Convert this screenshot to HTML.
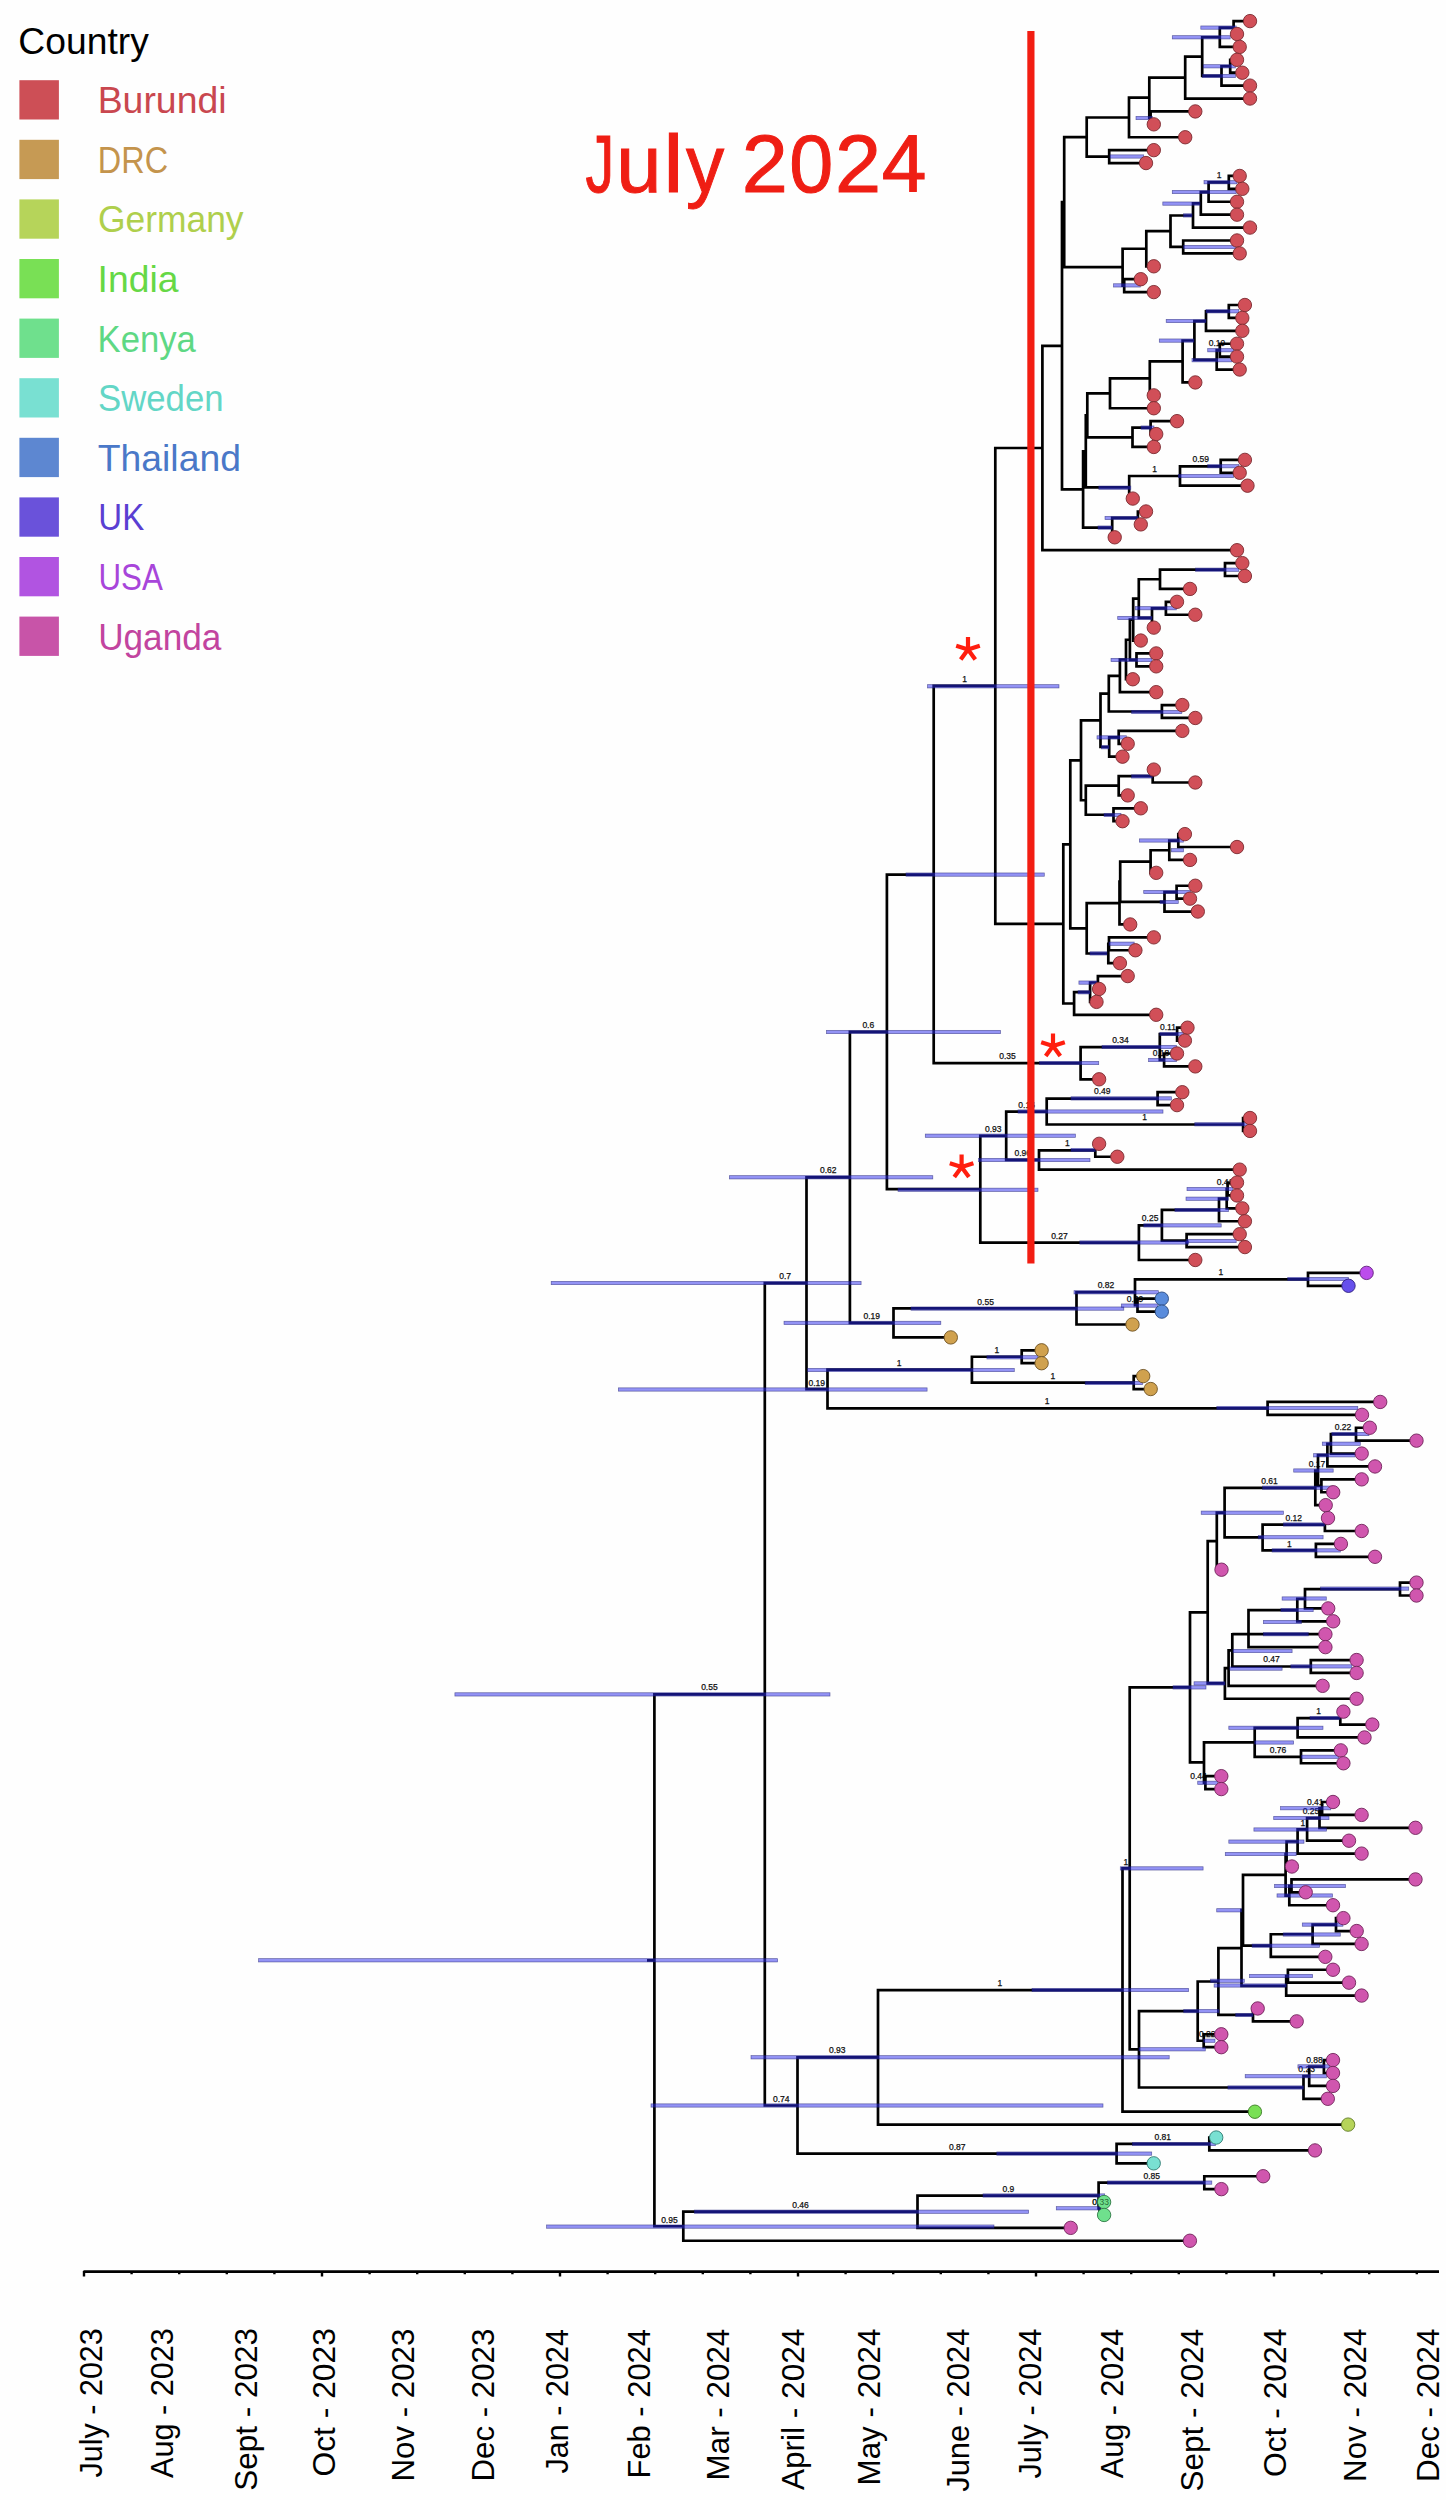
<!DOCTYPE html>
<html><head><meta charset="utf-8"><title>Phylogeny</title>
<style>html,body{margin:0;padding:0;background:#fefefe;}svg{display:block;}</style>
</head><body>
<svg width="1446" height="2500" viewBox="0 0 1446 2500"><rect width="100%" height="100%" fill="#fefefe"/><text x="18.36" y="54.00" font-family="Liberation Sans" font-size="36.5" fill="#000" textLength="130.44" lengthAdjust="spacingAndGlyphs">Country</text><rect x="19.4" y="80.2" width="39.5" height="39.3" fill="#CD4F56"/><text x="97.68" y="113.10" font-family="Liberation Sans" font-size="36" fill="#C9474F" textLength="128.90" lengthAdjust="spacingAndGlyphs">Burundi</text><rect x="19.4" y="139.8" width="39.5" height="39.3" fill="#C69A54"/><text x="97.80" y="172.70" font-family="Liberation Sans" font-size="36" fill="#C4944C" textLength="70.26" lengthAdjust="spacingAndGlyphs">DRC</text><rect x="19.4" y="199.4" width="39.5" height="39.3" fill="#B6D45A"/><text x="97.93" y="232.30" font-family="Liberation Sans" font-size="36" fill="#AFCF4C" textLength="145.61" lengthAdjust="spacingAndGlyphs">Germany</text><rect x="19.4" y="259.0" width="39.5" height="39.3" fill="#79E055"/><text x="97.58" y="291.90" font-family="Liberation Sans" font-size="36" fill="#66D845" textLength="80.89" lengthAdjust="spacingAndGlyphs">India</text><rect x="19.4" y="318.6" width="39.5" height="39.3" fill="#6FE08D"/><text x="97.61" y="351.50" font-family="Liberation Sans" font-size="36" fill="#5ED884" textLength="98.27" lengthAdjust="spacingAndGlyphs">Kenya</text><rect x="19.4" y="378.2" width="39.5" height="39.3" fill="#79E0D2"/><text x="98.06" y="411.10" font-family="Liberation Sans" font-size="36" fill="#63D6C6" textLength="125.46" lengthAdjust="spacingAndGlyphs">Sweden</text><rect x="19.4" y="437.8" width="39.5" height="39.3" fill="#5D87D1"/><text x="97.77" y="470.70" font-family="Liberation Sans" font-size="36" fill="#4A78C8" textLength="143.11" lengthAdjust="spacingAndGlyphs">Thailand</text><rect x="19.4" y="497.4" width="39.5" height="39.3" fill="#6A52DA"/><text x="98.33" y="530.30" font-family="Liberation Sans" font-size="36" fill="#5A3FD2" textLength="45.84" lengthAdjust="spacingAndGlyphs">UK</text><rect x="19.4" y="557.0" width="39.5" height="39.3" fill="#B154E1"/><text x="98.47" y="589.90" font-family="Liberation Sans" font-size="36" fill="#A845DA" textLength="64.34" lengthAdjust="spacingAndGlyphs">USA</text><rect x="19.4" y="616.6" width="39.5" height="39.3" fill="#C854A8"/><text x="98.17" y="649.50" font-family="Liberation Sans" font-size="36" fill="#C2449F" textLength="123.14" lengthAdjust="spacingAndGlyphs">Uganda</text><text x="585.59" y="192.00" font-family="Liberation Sans" font-size="82" fill="#EF1E14" textLength="28.68" lengthAdjust="spacingAndGlyphs" stroke="#EF1E14" stroke-width="1.0">J</text><text x="616.35" y="192.00" font-family="Liberation Sans" font-size="82" fill="#EF1E14" textLength="45.21" lengthAdjust="spacingAndGlyphs" stroke="#EF1E14" stroke-width="1.0">u</text><text x="663.39" y="192.00" font-family="Liberation Sans" font-size="82" fill="#EF1E14" textLength="20.24" lengthAdjust="spacingAndGlyphs" stroke="#EF1E14" stroke-width="1.0">l</text><text x="686.01" y="192.00" font-family="Liberation Sans" font-size="82" fill="#EF1E14" textLength="38.17" lengthAdjust="spacingAndGlyphs" stroke="#EF1E14" stroke-width="1.0">y</text><text x="741.66" y="192.00" font-family="Liberation Sans" font-size="82" fill="#EF1E14" textLength="46.09" lengthAdjust="spacingAndGlyphs" stroke="#EF1E14" stroke-width="1.0">2</text><text x="789.31" y="192.00" font-family="Liberation Sans" font-size="82" fill="#EF1E14" textLength="43.98" lengthAdjust="spacingAndGlyphs" stroke="#EF1E14" stroke-width="1.0">0</text><text x="834.96" y="192.00" font-family="Liberation Sans" font-size="82" fill="#EF1E14" textLength="46.09" lengthAdjust="spacingAndGlyphs" stroke="#EF1E14" stroke-width="1.0">2</text><text x="881.84" y="192.00" font-family="Liberation Sans" font-size="82" fill="#EF1E14" textLength="44.72" lengthAdjust="spacingAndGlyphs" stroke="#EF1E14" stroke-width="1.0">4</text><g font-family="Liberation Sans" font-size="8.5" fill="#111" stroke="#111" stroke-width="0.25" text-anchor="middle"><text x="1219.0" y="178.2">1</text><text x="1217.0" y="346.2">0.19</text><text x="1154.6" y="471.9">1</text><text x="1200.8" y="462.2">0.59</text><text x="1120.4" y="1043.0">0.34</text><text x="1168.0" y="1030.0">0.11</text><text x="1161.0" y="1056.0">0.18</text><text x="1102.2" y="1094.4">0.49</text><text x="1144.6" y="1120.3">1</text><text x="1067.3" y="1146.0">1</text><text x="1007.5" y="1059.0">0.35</text><text x="1026.6" y="1107.5">0.16</text><text x="993.2" y="1131.7">0.93</text><text x="1022.8" y="1155.9">0.96</text><text x="1150.1" y="1221.3">0.25</text><text x="1059.4" y="1238.5">0.27</text><text x="1225.0" y="1184.8">0.41</text><text x="964.6" y="682.3">1</text><text x="868.3" y="1028.1">0.6</text><text x="828.2" y="1173.3">0.62</text><text x="785.2" y="1279.2">0.7</text><text x="871.8" y="1318.9">0.19</text><text x="985.6" y="1304.6">0.55</text><text x="1105.9" y="1288.3">0.82</text><text x="1135.0" y="1301.5">0.39</text><text x="1220.9" y="1275.0">1</text><text x="816.8" y="1385.5">0.19</text><text x="899.2" y="1366.0">1</text><text x="996.8" y="1353.3">1</text><text x="1052.8" y="1379.0">1</text><text x="1047.1" y="1404.0">1</text><text x="1343.0" y="1430.0">0.22</text><text x="1317.0" y="1466.5">0.17</text><text x="1269.5" y="1483.5">0.61</text><text x="1293.7" y="1520.5">0.12</text><text x="1289.4" y="1546.5">1</text><text x="1271.5" y="1662.4">0.47</text><text x="1318.7" y="1714.0">1</text><text x="1278.0" y="1752.5">0.76</text><text x="1198.5" y="1778.7">0.44</text><text x="1315.2" y="1804.5">0.41</text><text x="1310.9" y="1814.1">0.25</text><text x="1302.8" y="1825.5">1</text><text x="1125.8" y="1864.5">1</text><text x="999.9" y="1986.0">1</text><text x="1207.2" y="2036.7">0.22</text><text x="1314.4" y="2062.5">0.88</text><text x="1306.6" y="2072.2">0.23</text><text x="837.2" y="2053.3">0.93</text><text x="781.2" y="2101.5">0.74</text><text x="957.3" y="2149.5">0.87</text><text x="1162.8" y="2140.0">0.81</text><text x="1151.7" y="2178.5">0.85</text><text x="1008.4" y="2191.5">0.9</text><text x="1100.6" y="2204.5">0.33</text><text x="800.5" y="2207.7">0.46</text><text x="669.4" y="2222.6">0.95</text><text x="709.4" y="1690.4">0.55</text></g><path d="M654.4 1693.00V2227.59M654.4 1694.35H764.8M764.8 1281.86V2106.84M764.8 1283.21H806.5M806.5 1176.04V1390.38M806.5 1177.39H849.9M849.9 1030.53V1324.24M849.9 1031.88H886.9M886.9 873.21V1190.55M886.9 874.56H933.7M933.7 684.59V1064.53M933.7 685.94H995.3M995.3 446.65V925.24M995.3 448.00H1042.4M1042.4 344.44V551.56M1042.4 345.79H1062.0M1062.0 200.77V490.81M1062.0 202.12H1064.2M1064.2 135.69V268.55M1064.2 137.04H1086.7M1086.7 116.13V157.95M1086.7 117.48H1129.0M1129.0 96.37V138.59M1129.0 97.72H1149.3M1149.3 76.21V119.24M1149.3 77.56H1185.2M1185.2 55.24V99.88M1185.2 56.59H1202.2M1202.2 35.88V77.30M1202.2 37.23H1219.8M1219.8 26.20V48.26M1219.8 27.55H1233.6M1233.6 19.75V35.36M1233.6 21.10H1250.0M1233.6 34.01H1237.0M1219.8 46.91H1239.7M1202.2 75.95H1221.5M1221.5 64.92V86.97M1221.5 66.27H1230.2M1230.2 58.46V74.07M1230.2 59.81H1237.0M1230.2 72.72H1242.3M1221.5 85.62H1250.0M1185.2 98.53H1250.0M1149.3 117.89H1150.6M1150.6 110.09V125.69M1150.6 111.44H1195.3M1150.6 124.34H1153.8M1129.0 137.25H1185.2M1086.7 156.60H1109.2M1109.2 148.80V164.40M1109.2 150.15H1153.8M1109.2 163.05H1146.0M1064.2 267.20H1122.6M1122.6 247.40V287.00M1122.6 248.75H1146.3M1146.3 229.86V267.65M1146.3 231.21H1170.5M1170.5 214.13V248.29M1170.5 215.48H1193.0M1193.0 202.03V228.93M1193.0 203.38H1200.8M1200.8 190.74V216.02M1200.8 192.09H1208.6M1208.6 181.06V203.12M1208.6 182.41H1228.8M1228.8 174.61V190.21M1228.8 175.96H1239.7M1228.8 188.86H1242.3M1208.6 201.77H1237.0M1200.8 214.67H1237.0M1193.0 227.58H1250.0M1170.5 246.94H1183.2M1183.2 239.13V254.74M1183.2 240.48H1237.0M1183.2 253.39H1239.7M1146.3 266.30H1153.8M1122.6 285.65H1124.2M1124.2 277.85V293.46M1124.2 279.20H1140.8M1124.2 292.11H1153.8M1062.0 489.46H1083.1M1083.1 449.95V528.97M1083.1 451.30H1085.8M1085.8 413.96V488.64M1085.8 415.31H1087.3M1087.3 391.98V438.64M1087.3 393.33H1110.0M1110.0 377.06V409.60M1110.0 378.41H1149.8M1149.8 360.12V396.70M1149.8 361.47H1182.6M1182.6 339.15V383.79M1182.6 340.50H1194.4M1194.4 319.79V361.21M1194.4 321.14H1206.0M1206.0 310.11V332.17M1206.0 311.46H1228.8M1228.8 303.66V319.27M1228.8 305.01H1244.9M1228.8 317.92H1242.3M1206.0 330.82H1242.3M1194.4 359.86H1216.7M1216.7 348.83V370.89M1216.7 350.18H1219.8M1219.8 342.38V357.98M1219.8 343.73H1237.0M1219.8 356.63H1237.0M1216.7 369.54H1239.7M1182.6 382.44H1195.3M1149.8 395.35H1153.8M1110.0 408.25H1153.8M1087.3 437.29H1132.5M1132.5 426.26V448.31M1132.5 427.61H1150.6M1150.6 419.81V435.41M1150.6 421.16H1177.0M1150.6 434.06H1156.2M1132.5 446.96H1153.8M1085.8 487.29H1129.2M1129.2 474.65V499.94M1129.2 476.00H1180.0M1180.0 464.97V487.03M1180.0 466.32H1220.7M1220.7 458.52V474.12M1220.7 459.87H1244.9M1220.7 472.77H1239.7M1180.0 485.68H1247.5M1129.2 498.58H1132.8M1083.1 527.62H1112.2M1112.2 516.59V538.65M1112.2 517.94H1137.9M1137.9 510.14V525.75M1137.9 511.49H1146.0M1137.9 524.39H1140.8M1112.2 537.30H1114.7M1042.4 550.21H1237.0M995.3 923.89H1063.3M1063.3 842.94V1004.84M1063.3 844.29H1070.3M1070.3 758.94V929.63M1070.3 760.29H1081.0M1081.0 718.99V801.59M1081.0 720.34H1100.5M1100.5 692.32V748.36M1100.5 693.67H1108.8M1108.8 674.48V712.87M1108.8 675.83H1119.9M1119.9 658.14V693.51M1119.9 659.49H1126.0M1126.0 638.38V680.61M1126.0 639.73H1129.9M1129.9 618.22V661.25M1129.9 619.57H1133.2M1133.2 597.25V641.89M1133.2 598.60H1138.8M1138.8 577.89V619.31M1138.8 579.24H1160.0M1160.0 568.21V590.27M1160.0 569.56H1225.0M1225.0 561.76V577.37M1225.0 563.11H1242.3M1225.0 576.01H1244.9M1160.0 588.92H1190.0M1138.8 617.96H1152.0M1152.0 606.93V628.99M1152.0 608.28H1165.9M1165.9 600.48V616.08M1165.9 601.83H1177.0M1165.9 614.73H1195.3M1152.0 627.63H1153.8M1133.2 640.54H1140.8M1129.9 659.90H1136.5M1136.5 652.09V667.70M1136.5 653.44H1156.2M1136.5 666.35H1156.2M1126.0 679.25H1132.8M1119.9 692.16H1156.2M1108.8 711.52H1161.9M1161.9 703.71V719.32M1161.9 705.06H1182.3M1161.9 717.97H1195.3M1100.5 747.01H1109.2M1109.2 735.98V758.03M1109.2 737.33H1118.7M1118.7 729.52V745.13M1118.7 730.88H1182.3M1118.7 743.78H1127.7M1109.2 756.68H1122.5M1081.0 800.24H1085.8M1085.8 784.37V816.11M1085.8 785.72H1118.7M1118.7 774.69V796.75M1118.7 776.04H1152.7M1152.7 768.24V783.85M1152.7 769.59H1153.8M1152.7 782.50H1195.3M1118.7 795.40H1127.7M1085.8 814.76H1113.5M1113.5 806.95V822.56M1113.5 808.30H1140.8M1113.5 821.21H1122.5M1070.3 928.28H1086.7M1086.7 901.73V954.84M1086.7 903.08H1119.5M1119.5 880.35V925.80M1119.5 881.70H1120.2M1120.2 860.19V903.22M1120.2 861.54H1150.6M1150.6 848.90V874.18M1150.6 850.25H1169.3M1169.3 839.22V861.27M1169.3 840.57H1178.3M1178.3 832.76V848.37M1178.3 834.12H1184.9M1178.3 847.02H1237.0M1169.3 859.92H1190.0M1150.6 872.83H1156.2M1120.2 901.87H1164.5M1164.5 890.84V912.89M1164.5 892.19H1176.6M1176.6 884.38V899.99M1176.6 885.74H1195.3M1176.6 898.64H1190.0M1164.5 911.54H1197.8M1119.5 924.45H1130.2M1086.7 953.49H1108.3M1108.3 942.46V964.51M1108.3 943.81H1109.0M1109.0 936.00V951.61M1109.0 937.36H1153.8M1109.0 950.26H1135.4M1108.3 963.16H1119.9M1063.3 1003.49H1074.1M1074.1 990.85V1016.13M1074.1 992.20H1090.1M1090.1 981.17V1003.23M1090.1 982.52H1097.9M1097.9 974.72V990.33M1097.9 976.07H1127.7M1097.9 988.98H1099.1M1090.1 1001.88H1096.5M1074.1 1014.78H1156.2M933.7 1063.18H1080.6M1080.6 1045.70V1080.66M1080.6 1047.05H1159.8M1159.8 1032.79V1061.30M1159.8 1034.14H1177.1M1177.1 1026.34V1041.94M1177.1 1027.69H1187.5M1177.1 1040.60H1184.9M1159.8 1059.95H1164.1M1164.1 1052.15V1067.75M1164.1 1053.50H1177.0M1164.1 1066.40H1195.3M1080.6 1079.31H1099.1M886.9 1189.20H980.3M980.3 1134.42V1243.99M980.3 1135.77H1006.2M1006.2 1110.22V1161.32M1006.2 1111.57H1046.7M1046.7 1097.32V1125.83M1046.7 1098.67H1157.6M1157.6 1090.87V1106.47M1157.6 1092.21H1182.3M1157.6 1105.12H1177.0M1046.7 1124.48H1243.1M1243.1 1116.67V1132.28M1243.1 1118.02H1250.0M1243.1 1130.93H1250.0M1006.2 1159.97H1039.0M1039.0 1148.94V1170.99M1039.0 1150.29H1095.3M1095.3 1142.48V1158.09M1095.3 1143.83H1099.1M1095.3 1156.74H1117.3M1039.0 1169.64H1239.7M980.3 1242.64H1138.9M1138.9 1223.95V1261.33M1138.9 1225.30H1161.9M1161.9 1208.62V1241.97M1161.9 1209.97H1219.0M1219.0 1197.33V1222.61M1219.0 1198.68H1226.7M1226.7 1187.65V1209.71M1226.7 1189.00H1227.6M1227.6 1181.20V1196.80M1227.6 1182.55H1237.0M1227.6 1195.45H1237.0M1226.7 1208.36H1242.3M1219.0 1221.26H1244.9M1161.9 1240.62H1186.6M1186.6 1232.82V1248.42M1186.6 1234.17H1239.7M1186.6 1247.07H1244.9M1138.9 1259.98H1195.3M849.9 1322.89H893.5M893.5 1307.02V1338.76M893.5 1308.37H1076.5M1076.5 1290.89V1325.85M1076.5 1292.24H1135.0M1135.0 1277.99V1306.50M1135.0 1279.34H1308.0M1308.0 1271.53V1287.14M1308.0 1272.88H1366.6M1308.0 1285.79H1348.5M1135.0 1305.15H1137.5M1137.5 1297.35V1312.95M1137.5 1298.69H1161.8M1137.5 1311.60H1161.8M1076.5 1324.50H1132.5M893.5 1337.41H950.8M806.5 1389.03H827.5M827.5 1368.32V1409.74M827.5 1369.67H971.9M971.9 1355.42V1383.93M971.9 1356.77H1021.7M1021.7 1348.96V1364.57M1021.7 1350.31H1041.6M1021.7 1363.22H1041.6M971.9 1382.58H1133.7M1133.7 1374.77V1390.38M1133.7 1376.12H1143.2M1133.7 1389.03H1150.7M827.5 1408.39H1267.6M1267.6 1400.59V1416.19M1267.6 1401.93H1380.2M1267.6 1414.84H1362.0M764.8 2105.49H797.5M797.5 2055.97V2155.00M797.5 2057.32H878.0M878.0 1988.68V2125.96M878.0 1990.03H1122.5M1122.5 1867.00V2113.06M1122.5 1868.35H1129.7M1129.7 1686.03V2050.66M1129.7 1687.38H1190.0M1190.0 1610.95V1763.82M1190.0 1612.30H1207.7M1207.7 1539.82V1684.78M1207.7 1541.17H1216.8M1216.8 1511.29V1571.05M1216.8 1512.64H1224.6M1224.6 1486.48V1538.79M1224.6 1487.83H1315.3M1315.3 1469.14V1506.52M1315.3 1470.49H1318.0M1318.0 1453.82V1487.17M1318.0 1455.17H1327.4M1327.4 1442.53V1467.81M1327.4 1443.88H1330.9M1330.9 1432.85V1454.90M1330.9 1434.20H1356.0M1356.0 1426.39V1442.00M1356.0 1427.74H1369.8M1356.0 1440.65H1416.5M1330.9 1453.55H1361.7M1327.4 1466.46H1375.0M1318.0 1485.82H1321.4M1321.4 1478.01V1493.62M1321.4 1479.36H1361.7M1321.4 1492.27H1333.2M1315.3 1505.17H1325.7M1224.6 1537.44H1262.6M1262.6 1523.18V1551.69M1262.6 1524.53H1324.9M1324.9 1516.73V1532.33M1324.9 1518.08H1328.0M1324.9 1530.98H1361.7M1262.6 1550.34H1315.9M1315.9 1542.54V1558.14M1315.9 1543.89H1340.9M1315.9 1556.79H1375.0M1216.8 1569.70H1221.5M1207.7 1683.43H1224.9M1224.9 1666.75V1700.10M1224.9 1668.10H1228.6M1228.6 1649.01V1687.19M1228.6 1650.36H1232.3M1232.3 1632.88V1667.84M1232.3 1634.22H1248.5M1248.5 1608.68V1648.48M1248.5 1610.03H1297.3M1297.3 1597.39V1622.67M1297.3 1598.74H1305.0M1305.0 1587.71V1609.76M1305.0 1589.06H1400.0M1400.0 1581.25V1596.86M1400.0 1582.60H1416.5M1400.0 1595.51H1416.5M1305.0 1608.41H1328.2M1297.3 1621.32H1333.2M1248.5 1634.22H1325.4M1248.5 1647.13H1325.4M1232.3 1666.49H1310.8M1310.8 1658.68V1674.29M1310.8 1660.03H1356.6M1310.8 1672.94H1356.6M1228.6 1685.84H1322.6M1224.9 1698.75H1356.6M1190.0 1762.47H1204.0M1204.0 1740.95V1783.98M1204.0 1742.30H1254.7M1254.7 1726.44V1758.17M1254.7 1727.79H1297.6M1297.6 1716.76V1738.81M1297.6 1718.11H1340.3M1340.3 1710.30V1725.91M1340.3 1711.65H1343.4M1340.3 1724.56H1372.3M1297.6 1737.46H1364.5M1254.7 1756.82H1301.0M1301.0 1749.02V1764.62M1301.0 1750.37H1340.8M1301.0 1763.27H1343.4M1204.0 1782.63H1205.4M1205.4 1774.83V1790.43M1205.4 1776.18H1221.3M1205.4 1789.08H1221.3M1129.7 2049.31H1139.0M1139.0 2009.75V2088.86M1139.0 2011.10H1197.7M1197.7 1980.13V2042.08M1197.7 1981.48H1218.4M1218.4 1946.68V2016.27M1218.4 1948.03H1241.5M1241.5 1908.82V1987.24M1241.5 1910.17H1243.0M1243.0 1873.43V1946.91M1243.0 1874.78H1285.6M1285.6 1852.66V1896.90M1285.6 1854.01H1286.6M1286.6 1840.16V1867.86M1286.6 1841.51H1297.6M1297.6 1828.06V1854.96M1297.6 1829.41H1307.1M1307.1 1816.77V1842.05M1307.1 1818.12H1319.5M1319.5 1807.09V1829.15M1319.5 1808.44H1322.1M1322.1 1800.64V1816.24M1322.1 1801.99H1333.0M1322.1 1814.89H1361.6M1319.5 1827.80H1415.5M1307.1 1840.70H1349.0M1297.6 1853.61H1361.6M1286.6 1866.51H1291.9M1285.6 1895.55H1289.3M1289.3 1884.52V1906.58M1289.3 1885.87H1291.5M1291.5 1878.07V1893.67M1291.5 1879.42H1415.5M1291.5 1892.32H1305.7M1289.3 1905.23H1333.0M1243.0 1945.56H1270.8M1270.8 1932.92V1958.20M1270.8 1934.27H1312.6M1312.6 1923.24V1945.29M1312.6 1924.59H1336.0M1336.0 1916.78V1932.39M1336.0 1918.13H1343.4M1336.0 1931.04H1356.7M1312.6 1943.94H1361.6M1270.8 1956.85H1325.3M1241.5 1985.89H1286.2M1286.2 1974.86V1996.91M1286.2 1976.21H1287.9M1287.9 1968.40V1984.01M1287.9 1969.75H1333.0M1287.9 1982.66H1349.0M1286.2 1995.56H1361.6M1218.4 2014.92H1253.0M1253.0 2007.12V2022.72M1253.0 2008.47H1257.7M1253.0 2021.37H1296.7M1197.7 2040.73H1203.7M1203.7 2032.93V2048.53M1203.7 2034.28H1221.3M1203.7 2047.18H1221.3M1139.0 2087.51H1303.5M1303.5 2074.87V2100.15M1303.5 2076.22H1309.2M1309.2 2065.19V2087.25M1309.2 2066.54H1323.9M1323.9 2058.74V2074.34M1323.9 2060.09H1333.0M1323.9 2072.99H1333.0M1309.2 2085.90H1333.0M1303.5 2098.80H1327.8M1122.5 2111.71H1254.9M878.0 2124.61H1348.1M797.5 2153.65H1116.6M1116.6 2142.62V2164.68M1116.6 2143.97H1209.3M1209.3 2136.17V2151.77M1209.3 2137.52H1216.2M1209.3 2150.42H1315.0M1116.6 2163.33H1153.7M654.4 2226.24H683.3M683.3 2210.37V2242.11M683.3 2211.72H917.5M917.5 2194.24V2229.20M917.5 2195.59H1098.6M1098.6 2181.34V2209.85M1098.6 2182.69H1204.3M1204.3 2174.88V2190.49M1204.3 2176.23H1263.2M1204.3 2189.14H1221.4M1098.6 2208.50H1099.5M1099.5 2200.69V2216.30M1099.5 2202.04H1104.1M1099.5 2214.95H1104.1M917.5 2227.86H1070.7M683.3 2240.76H1189.9M647.0 1960.29H654.4" stroke="#000" stroke-width="2.7" fill="none" stroke-linecap="butt"/><g fill="#2828eb" fill-opacity="0.5" stroke="#1a1a70" stroke-opacity="0.6" stroke-width="0.7"><rect x="1200.8" y="25.95" width="35.4" height="3.3"/><rect x="1172.3" y="35.65" width="57.9" height="3.3"/><rect x="1203.4" y="64.65" width="32.0" height="3.3"/><rect x="1202.5" y="74.35" width="32.9" height="3.3"/><rect x="1136.0" y="116.35" width="16.4" height="3.3"/><rect x="1110.0" y="154.85" width="33.7" height="3.3"/><rect x="1204.0" y="180.55" width="33.0" height="3.3"/><rect x="1172.3" y="190.35" width="63.9" height="3.3"/><rect x="1162.8" y="201.95" width="37.2" height="3.3"/><rect x="1183.5" y="213.75" width="8.5" height="3.3"/><rect x="1183.5" y="245.35" width="51.9" height="3.3"/><rect x="1113.5" y="283.75" width="26.8" height="3.3"/><rect x="1206.0" y="309.65" width="32.8" height="3.3"/><rect x="1166.2" y="319.35" width="39.8" height="3.3"/><rect x="1159.3" y="338.95" width="34.6" height="3.3"/><rect x="1207.7" y="348.55" width="25.9" height="3.3"/><rect x="1192.0" y="358.55" width="40.0" height="3.3"/><rect x="1141.0" y="425.95" width="13.0" height="3.3"/><rect x="1207.7" y="464.55" width="31.1" height="3.3"/><rect x="1178.3" y="474.35" width="55.3" height="3.3"/><rect x="1098.8" y="486.05" width="32.0" height="3.3"/><rect x="1105.0" y="516.35" width="33.0" height="3.3"/><rect x="1098.0" y="525.95" width="14.0" height="3.3"/><rect x="1195.6" y="568.05" width="43.2" height="3.3"/><rect x="1135.4" y="606.55" width="40.9" height="3.3"/><rect x="1117.7" y="616.35" width="34.3" height="3.3"/><rect x="1111.0" y="658.35" width="41.0" height="3.3"/><rect x="1131.6" y="710.35" width="50.2" height="3.3"/><rect x="1097.0" y="735.75" width="29.4" height="3.3"/><rect x="1101.4" y="745.55" width="7.6" height="3.3"/><rect x="1131.6" y="774.75" width="20.8" height="3.3"/><rect x="1104.0" y="813.35" width="17.0" height="3.3"/><rect x="1139.4" y="838.85" width="44.1" height="3.3"/><rect x="1171.4" y="848.55" width="12.1" height="3.3"/><rect x="1143.7" y="890.35" width="46.7" height="3.3"/><rect x="1160.0" y="900.35" width="18.3" height="3.3"/><rect x="1109.0" y="942.05" width="25.2" height="3.3"/><rect x="1090.0" y="951.75" width="17.0" height="3.3"/><rect x="1078.9" y="980.95" width="18.1" height="3.3"/><rect x="1078.0" y="990.65" width="12.0" height="3.3"/><rect x="1102.0" y="1045.35" width="74.6" height="3.3"/><rect x="1159.8" y="1032.35" width="23.7" height="3.3"/><rect x="1148.6" y="1058.35" width="28.0" height="3.3"/><rect x="1039.5" y="1061.35" width="59.2" height="3.3"/><rect x="1071.0" y="1096.75" width="100.4" height="3.3"/><rect x="1194.7" y="1122.65" width="55.3" height="3.3"/><rect x="1018.0" y="1109.85" width="145.0" height="3.3"/><rect x="1071.0" y="1148.35" width="24.3" height="3.3"/><rect x="978.5" y="1158.35" width="111.5" height="3.3"/><rect x="1187.0" y="1187.35" width="45.9" height="3.3"/><rect x="1186.0" y="1197.05" width="42.6" height="3.3"/><rect x="1174.9" y="1208.35" width="53.6" height="3.3"/><rect x="1143.7" y="1223.75" width="77.5" height="3.3"/><rect x="1186.6" y="1239.35" width="49.6" height="3.3"/><rect x="1079.8" y="1240.85" width="108.9" height="3.3"/><rect x="925.3" y="1134.05" width="150.1" height="3.3"/><rect x="898.0" y="1188.15" width="140.0" height="3.3"/><rect x="927.5" y="684.65" width="131.5" height="3.3"/><rect x="906.0" y="872.95" width="138.3" height="3.3"/><rect x="826.5" y="1030.35" width="174.0" height="3.3"/><rect x="729.4" y="1175.65" width="203.4" height="3.3"/><rect x="551.2" y="1281.35" width="309.9" height="3.3"/><rect x="784.0" y="1321.25" width="156.8" height="3.3"/><rect x="911.0" y="1306.95" width="212.8" height="3.3"/><rect x="1074.0" y="1290.65" width="84.4" height="3.3"/><rect x="1121.3" y="1303.95" width="36.1" height="3.3"/><rect x="1287.7" y="1277.35" width="60.8" height="3.3"/><rect x="618.4" y="1387.85" width="308.7" height="3.3"/><rect x="807.6" y="1368.35" width="206.7" height="3.3"/><rect x="986.9" y="1355.65" width="51.0" height="3.3"/><rect x="1085.2" y="1381.35" width="57.3" height="3.3"/><rect x="1216.8" y="1406.35" width="141.0" height="3.3"/><rect x="454.9" y="1692.75" width="375.1" height="3.3"/><rect x="258.6" y="1958.65" width="519.0" height="3.3"/><rect x="651.0" y="2103.85" width="452.0" height="3.3"/><rect x="751.0" y="2055.65" width="418.2" height="3.3"/><rect x="1032.0" y="1988.35" width="156.6" height="3.3"/><rect x="1120.3" y="1866.75" width="82.8" height="3.3"/><rect x="1139.0" y="2047.65" width="66.3" height="3.3"/><rect x="996.8" y="2151.95" width="154.9" height="3.3"/><rect x="1132.4" y="2142.35" width="83.0" height="3.3"/><rect x="1107.5" y="2180.95" width="104.3" height="3.3"/><rect x="983.0" y="2193.85" width="121.7" height="3.3"/><rect x="1056.3" y="2206.65" width="44.3" height="3.3"/><rect x="694.3" y="2210.05" width="334.3" height="3.3"/><rect x="546.6" y="2224.95" width="447.4" height="3.3"/><rect x="1331.8" y="1432.35" width="37.2" height="3.3"/><rect x="1322.3" y="1442.05" width="38.0" height="3.3"/><rect x="1313.6" y="1453.65" width="41.5" height="3.3"/><rect x="1293.7" y="1468.85" width="39.5" height="3.3"/><rect x="1262.6" y="1486.05" width="70.6" height="3.3"/><rect x="1283.4" y="1522.85" width="41.5" height="3.3"/><rect x="1272.1" y="1548.75" width="68.3" height="3.3"/><rect x="1258.3" y="1535.55" width="64.8" height="3.3"/><rect x="1201.2" y="1511.05" width="82.2" height="3.3"/><rect x="1320.5" y="1586.95" width="88.2" height="3.3"/><rect x="1282.1" y="1596.85" width="44.2" height="3.3"/><rect x="1280.9" y="1608.35" width="32.3" height="3.3"/><rect x="1263.4" y="1620.35" width="38.0" height="3.3"/><rect x="1263.4" y="1632.55" width="44.9" height="3.3"/><rect x="1233.0" y="1649.35" width="59.1" height="3.3"/><rect x="1290.8" y="1664.75" width="61.0" height="3.3"/><rect x="1229.8" y="1666.95" width="52.3" height="3.3"/><rect x="1194.0" y="1681.75" width="31.0" height="3.3"/><rect x="1173.0" y="1685.75" width="33.0" height="3.3"/><rect x="1310.0" y="1716.35" width="30.0" height="3.3"/><rect x="1228.8" y="1726.15" width="94.2" height="3.3"/><rect x="1301.4" y="1755.15" width="37.2" height="3.3"/><rect x="1254.7" y="1740.85" width="38.9" height="3.3"/><rect x="1197.7" y="1781.15" width="19.8" height="3.3"/><rect x="1280.6" y="1806.55" width="50.2" height="3.3"/><rect x="1273.7" y="1816.35" width="55.3" height="3.3"/><rect x="1253.9" y="1827.85" width="72.6" height="3.3"/><rect x="1228.8" y="1839.95" width="75.2" height="3.3"/><rect x="1225.3" y="1852.35" width="70.9" height="3.3"/><rect x="1274.6" y="1884.35" width="70.9" height="3.3"/><rect x="1277.0" y="1893.85" width="55.5" height="3.3"/><rect x="1216.7" y="1908.65" width="25.0" height="3.3"/><rect x="1302.3" y="1922.95" width="40.6" height="3.3"/><rect x="1283.2" y="1932.85" width="57.1" height="3.3"/><rect x="1252.1" y="1944.05" width="67.5" height="3.3"/><rect x="1249.5" y="1974.35" width="63.1" height="3.3"/><rect x="1210.6" y="1979.15" width="33.7" height="3.3"/><rect x="1214.1" y="1983.85" width="72.1" height="3.3"/><rect x="1235.7" y="2013.35" width="17.3" height="3.3"/><rect x="1183.7" y="2009.45" width="35.3" height="3.3"/><rect x="1203.7" y="2039.05" width="11.3" height="3.3"/><rect x="1297.9" y="2064.75" width="32.0" height="3.3"/><rect x="1245.2" y="2074.55" width="81.3" height="3.3"/><rect x="1227.9" y="2085.85" width="75.6" height="3.3"/></g><circle cx="1250.0" cy="21.10" r="6.7" fill="#D14F58" stroke="#7a2a30" stroke-width="0.9"/><circle cx="1237.0" cy="34.01" r="6.7" fill="#D14F58" stroke="#7a2a30" stroke-width="0.9"/><circle cx="1239.7" cy="46.91" r="6.7" fill="#D14F58" stroke="#7a2a30" stroke-width="0.9"/><circle cx="1237.0" cy="59.81" r="6.7" fill="#D14F58" stroke="#7a2a30" stroke-width="0.9"/><circle cx="1242.3" cy="72.72" r="6.7" fill="#D14F58" stroke="#7a2a30" stroke-width="0.9"/><circle cx="1250.0" cy="85.62" r="6.7" fill="#D14F58" stroke="#7a2a30" stroke-width="0.9"/><circle cx="1250.0" cy="98.53" r="6.7" fill="#D14F58" stroke="#7a2a30" stroke-width="0.9"/><circle cx="1195.3" cy="111.44" r="6.7" fill="#D14F58" stroke="#7a2a30" stroke-width="0.9"/><circle cx="1153.8" cy="124.34" r="6.7" fill="#D14F58" stroke="#7a2a30" stroke-width="0.9"/><circle cx="1185.2" cy="137.25" r="6.7" fill="#D14F58" stroke="#7a2a30" stroke-width="0.9"/><circle cx="1153.8" cy="150.15" r="6.7" fill="#D14F58" stroke="#7a2a30" stroke-width="0.9"/><circle cx="1146.0" cy="163.05" r="6.7" fill="#D14F58" stroke="#7a2a30" stroke-width="0.9"/><circle cx="1239.7" cy="175.96" r="6.7" fill="#D14F58" stroke="#7a2a30" stroke-width="0.9"/><circle cx="1242.3" cy="188.86" r="6.7" fill="#D14F58" stroke="#7a2a30" stroke-width="0.9"/><circle cx="1237.0" cy="201.77" r="6.7" fill="#D14F58" stroke="#7a2a30" stroke-width="0.9"/><circle cx="1237.0" cy="214.67" r="6.7" fill="#D14F58" stroke="#7a2a30" stroke-width="0.9"/><circle cx="1250.0" cy="227.58" r="6.7" fill="#D14F58" stroke="#7a2a30" stroke-width="0.9"/><circle cx="1237.0" cy="240.48" r="6.7" fill="#D14F58" stroke="#7a2a30" stroke-width="0.9"/><circle cx="1239.7" cy="253.39" r="6.7" fill="#D14F58" stroke="#7a2a30" stroke-width="0.9"/><circle cx="1153.8" cy="266.30" r="6.7" fill="#D14F58" stroke="#7a2a30" stroke-width="0.9"/><circle cx="1140.8" cy="279.20" r="6.7" fill="#D14F58" stroke="#7a2a30" stroke-width="0.9"/><circle cx="1153.8" cy="292.11" r="6.7" fill="#D14F58" stroke="#7a2a30" stroke-width="0.9"/><circle cx="1244.9" cy="305.01" r="6.7" fill="#D14F58" stroke="#7a2a30" stroke-width="0.9"/><circle cx="1242.3" cy="317.92" r="6.7" fill="#D14F58" stroke="#7a2a30" stroke-width="0.9"/><circle cx="1242.3" cy="330.82" r="6.7" fill="#D14F58" stroke="#7a2a30" stroke-width="0.9"/><circle cx="1237.0" cy="343.73" r="6.7" fill="#D14F58" stroke="#7a2a30" stroke-width="0.9"/><circle cx="1237.0" cy="356.63" r="6.7" fill="#D14F58" stroke="#7a2a30" stroke-width="0.9"/><circle cx="1239.7" cy="369.54" r="6.7" fill="#D14F58" stroke="#7a2a30" stroke-width="0.9"/><circle cx="1195.3" cy="382.44" r="6.7" fill="#D14F58" stroke="#7a2a30" stroke-width="0.9"/><circle cx="1153.8" cy="395.35" r="6.7" fill="#D14F58" stroke="#7a2a30" stroke-width="0.9"/><circle cx="1153.8" cy="408.25" r="6.7" fill="#D14F58" stroke="#7a2a30" stroke-width="0.9"/><circle cx="1177.0" cy="421.16" r="6.7" fill="#D14F58" stroke="#7a2a30" stroke-width="0.9"/><circle cx="1156.2" cy="434.06" r="6.7" fill="#D14F58" stroke="#7a2a30" stroke-width="0.9"/><circle cx="1153.8" cy="446.96" r="6.7" fill="#D14F58" stroke="#7a2a30" stroke-width="0.9"/><circle cx="1244.9" cy="459.87" r="6.7" fill="#D14F58" stroke="#7a2a30" stroke-width="0.9"/><circle cx="1239.7" cy="472.77" r="6.7" fill="#D14F58" stroke="#7a2a30" stroke-width="0.9"/><circle cx="1247.5" cy="485.68" r="6.7" fill="#D14F58" stroke="#7a2a30" stroke-width="0.9"/><circle cx="1132.8" cy="498.58" r="6.7" fill="#D14F58" stroke="#7a2a30" stroke-width="0.9"/><circle cx="1146.0" cy="511.49" r="6.7" fill="#D14F58" stroke="#7a2a30" stroke-width="0.9"/><circle cx="1140.8" cy="524.39" r="6.7" fill="#D14F58" stroke="#7a2a30" stroke-width="0.9"/><circle cx="1114.7" cy="537.30" r="6.7" fill="#D14F58" stroke="#7a2a30" stroke-width="0.9"/><circle cx="1237.0" cy="550.21" r="6.7" fill="#D14F58" stroke="#7a2a30" stroke-width="0.9"/><circle cx="1242.3" cy="563.11" r="6.7" fill="#D14F58" stroke="#7a2a30" stroke-width="0.9"/><circle cx="1244.9" cy="576.01" r="6.7" fill="#D14F58" stroke="#7a2a30" stroke-width="0.9"/><circle cx="1190.0" cy="588.92" r="6.7" fill="#D14F58" stroke="#7a2a30" stroke-width="0.9"/><circle cx="1177.0" cy="601.83" r="6.7" fill="#D14F58" stroke="#7a2a30" stroke-width="0.9"/><circle cx="1195.3" cy="614.73" r="6.7" fill="#D14F58" stroke="#7a2a30" stroke-width="0.9"/><circle cx="1153.8" cy="627.63" r="6.7" fill="#D14F58" stroke="#7a2a30" stroke-width="0.9"/><circle cx="1140.8" cy="640.54" r="6.7" fill="#D14F58" stroke="#7a2a30" stroke-width="0.9"/><circle cx="1156.2" cy="653.44" r="6.7" fill="#D14F58" stroke="#7a2a30" stroke-width="0.9"/><circle cx="1156.2" cy="666.35" r="6.7" fill="#D14F58" stroke="#7a2a30" stroke-width="0.9"/><circle cx="1132.8" cy="679.25" r="6.7" fill="#D14F58" stroke="#7a2a30" stroke-width="0.9"/><circle cx="1156.2" cy="692.16" r="6.7" fill="#D14F58" stroke="#7a2a30" stroke-width="0.9"/><circle cx="1182.3" cy="705.06" r="6.7" fill="#D14F58" stroke="#7a2a30" stroke-width="0.9"/><circle cx="1195.3" cy="717.97" r="6.7" fill="#D14F58" stroke="#7a2a30" stroke-width="0.9"/><circle cx="1182.3" cy="730.88" r="6.7" fill="#D14F58" stroke="#7a2a30" stroke-width="0.9"/><circle cx="1127.7" cy="743.78" r="6.7" fill="#D14F58" stroke="#7a2a30" stroke-width="0.9"/><circle cx="1122.5" cy="756.68" r="6.7" fill="#D14F58" stroke="#7a2a30" stroke-width="0.9"/><circle cx="1153.8" cy="769.59" r="6.7" fill="#D14F58" stroke="#7a2a30" stroke-width="0.9"/><circle cx="1195.3" cy="782.50" r="6.7" fill="#D14F58" stroke="#7a2a30" stroke-width="0.9"/><circle cx="1127.7" cy="795.40" r="6.7" fill="#D14F58" stroke="#7a2a30" stroke-width="0.9"/><circle cx="1140.8" cy="808.30" r="6.7" fill="#D14F58" stroke="#7a2a30" stroke-width="0.9"/><circle cx="1122.5" cy="821.21" r="6.7" fill="#D14F58" stroke="#7a2a30" stroke-width="0.9"/><circle cx="1184.9" cy="834.12" r="6.7" fill="#D14F58" stroke="#7a2a30" stroke-width="0.9"/><circle cx="1237.0" cy="847.02" r="6.7" fill="#D14F58" stroke="#7a2a30" stroke-width="0.9"/><circle cx="1190.0" cy="859.92" r="6.7" fill="#D14F58" stroke="#7a2a30" stroke-width="0.9"/><circle cx="1156.2" cy="872.83" r="6.7" fill="#D14F58" stroke="#7a2a30" stroke-width="0.9"/><circle cx="1195.3" cy="885.74" r="6.7" fill="#D14F58" stroke="#7a2a30" stroke-width="0.9"/><circle cx="1190.0" cy="898.64" r="6.7" fill="#D14F58" stroke="#7a2a30" stroke-width="0.9"/><circle cx="1197.8" cy="911.54" r="6.7" fill="#D14F58" stroke="#7a2a30" stroke-width="0.9"/><circle cx="1130.2" cy="924.45" r="6.7" fill="#D14F58" stroke="#7a2a30" stroke-width="0.9"/><circle cx="1153.8" cy="937.36" r="6.7" fill="#D14F58" stroke="#7a2a30" stroke-width="0.9"/><circle cx="1135.4" cy="950.26" r="6.7" fill="#D14F58" stroke="#7a2a30" stroke-width="0.9"/><circle cx="1119.9" cy="963.16" r="6.7" fill="#D14F58" stroke="#7a2a30" stroke-width="0.9"/><circle cx="1127.7" cy="976.07" r="6.7" fill="#D14F58" stroke="#7a2a30" stroke-width="0.9"/><circle cx="1099.1" cy="988.98" r="6.7" fill="#D14F58" stroke="#7a2a30" stroke-width="0.9"/><circle cx="1096.5" cy="1001.88" r="6.7" fill="#D14F58" stroke="#7a2a30" stroke-width="0.9"/><circle cx="1156.2" cy="1014.78" r="6.7" fill="#D14F58" stroke="#7a2a30" stroke-width="0.9"/><circle cx="1187.5" cy="1027.69" r="6.7" fill="#D14F58" stroke="#7a2a30" stroke-width="0.9"/><circle cx="1184.9" cy="1040.60" r="6.7" fill="#D14F58" stroke="#7a2a30" stroke-width="0.9"/><circle cx="1177.0" cy="1053.50" r="6.7" fill="#D14F58" stroke="#7a2a30" stroke-width="0.9"/><circle cx="1195.3" cy="1066.40" r="6.7" fill="#D14F58" stroke="#7a2a30" stroke-width="0.9"/><circle cx="1099.1" cy="1079.31" r="6.7" fill="#D14F58" stroke="#7a2a30" stroke-width="0.9"/><circle cx="1182.3" cy="1092.21" r="6.7" fill="#D14F58" stroke="#7a2a30" stroke-width="0.9"/><circle cx="1177.0" cy="1105.12" r="6.7" fill="#D14F58" stroke="#7a2a30" stroke-width="0.9"/><circle cx="1250.0" cy="1118.02" r="6.7" fill="#D14F58" stroke="#7a2a30" stroke-width="0.9"/><circle cx="1250.0" cy="1130.93" r="6.7" fill="#D14F58" stroke="#7a2a30" stroke-width="0.9"/><circle cx="1099.1" cy="1143.83" r="6.7" fill="#D14F58" stroke="#7a2a30" stroke-width="0.9"/><circle cx="1117.3" cy="1156.74" r="6.7" fill="#D14F58" stroke="#7a2a30" stroke-width="0.9"/><circle cx="1239.7" cy="1169.64" r="6.7" fill="#D14F58" stroke="#7a2a30" stroke-width="0.9"/><circle cx="1237.0" cy="1182.55" r="6.7" fill="#D14F58" stroke="#7a2a30" stroke-width="0.9"/><circle cx="1237.0" cy="1195.45" r="6.7" fill="#D14F58" stroke="#7a2a30" stroke-width="0.9"/><circle cx="1242.3" cy="1208.36" r="6.7" fill="#D14F58" stroke="#7a2a30" stroke-width="0.9"/><circle cx="1244.9" cy="1221.26" r="6.7" fill="#D14F58" stroke="#7a2a30" stroke-width="0.9"/><circle cx="1239.7" cy="1234.17" r="6.7" fill="#D14F58" stroke="#7a2a30" stroke-width="0.9"/><circle cx="1244.9" cy="1247.07" r="6.7" fill="#D14F58" stroke="#7a2a30" stroke-width="0.9"/><circle cx="1195.3" cy="1259.98" r="6.7" fill="#D14F58" stroke="#7a2a30" stroke-width="0.9"/><circle cx="1366.6" cy="1272.88" r="6.7" fill="#BC4CEC" stroke="#60207a" stroke-width="0.9"/><circle cx="1348.5" cy="1285.79" r="6.7" fill="#6650EC" stroke="#302080" stroke-width="0.9"/><circle cx="1161.8" cy="1298.69" r="6.7" fill="#5A8CDC" stroke="#2a4a80" stroke-width="0.9"/><circle cx="1161.8" cy="1311.60" r="6.7" fill="#5A8CDC" stroke="#2a4a80" stroke-width="0.9"/><circle cx="1132.5" cy="1324.50" r="6.7" fill="#D0A14E" stroke="#6f5425" stroke-width="0.9"/><circle cx="950.8" cy="1337.41" r="6.7" fill="#D0A14E" stroke="#6f5425" stroke-width="0.9"/><circle cx="1041.6" cy="1350.31" r="6.7" fill="#D0A14E" stroke="#6f5425" stroke-width="0.9"/><circle cx="1041.6" cy="1363.22" r="6.7" fill="#D0A14E" stroke="#6f5425" stroke-width="0.9"/><circle cx="1143.2" cy="1376.12" r="6.7" fill="#D0A14E" stroke="#6f5425" stroke-width="0.9"/><circle cx="1150.7" cy="1389.03" r="6.7" fill="#D0A14E" stroke="#6f5425" stroke-width="0.9"/><circle cx="1380.2" cy="1401.93" r="6.7" fill="#D056AE" stroke="#70245a" stroke-width="0.9"/><circle cx="1362.0" cy="1414.84" r="6.7" fill="#D056AE" stroke="#70245a" stroke-width="0.9"/><circle cx="1369.8" cy="1427.74" r="6.7" fill="#D056AE" stroke="#70245a" stroke-width="0.9"/><circle cx="1416.5" cy="1440.65" r="6.7" fill="#D056AE" stroke="#70245a" stroke-width="0.9"/><circle cx="1361.7" cy="1453.55" r="6.7" fill="#D056AE" stroke="#70245a" stroke-width="0.9"/><circle cx="1375.0" cy="1466.46" r="6.7" fill="#D056AE" stroke="#70245a" stroke-width="0.9"/><circle cx="1361.7" cy="1479.36" r="6.7" fill="#D056AE" stroke="#70245a" stroke-width="0.9"/><circle cx="1333.2" cy="1492.27" r="6.7" fill="#D056AE" stroke="#70245a" stroke-width="0.9"/><circle cx="1325.7" cy="1505.17" r="6.7" fill="#D056AE" stroke="#70245a" stroke-width="0.9"/><circle cx="1328.0" cy="1518.08" r="6.7" fill="#D056AE" stroke="#70245a" stroke-width="0.9"/><circle cx="1361.7" cy="1530.98" r="6.7" fill="#D056AE" stroke="#70245a" stroke-width="0.9"/><circle cx="1340.9" cy="1543.89" r="6.7" fill="#D056AE" stroke="#70245a" stroke-width="0.9"/><circle cx="1375.0" cy="1556.79" r="6.7" fill="#D056AE" stroke="#70245a" stroke-width="0.9"/><circle cx="1221.5" cy="1569.70" r="6.7" fill="#D056AE" stroke="#70245a" stroke-width="0.9"/><circle cx="1416.5" cy="1582.60" r="6.7" fill="#D056AE" stroke="#70245a" stroke-width="0.9"/><circle cx="1416.5" cy="1595.51" r="6.7" fill="#D056AE" stroke="#70245a" stroke-width="0.9"/><circle cx="1328.2" cy="1608.41" r="6.7" fill="#D056AE" stroke="#70245a" stroke-width="0.9"/><circle cx="1333.2" cy="1621.32" r="6.7" fill="#D056AE" stroke="#70245a" stroke-width="0.9"/><circle cx="1325.4" cy="1634.22" r="6.7" fill="#D056AE" stroke="#70245a" stroke-width="0.9"/><circle cx="1325.4" cy="1647.13" r="6.7" fill="#D056AE" stroke="#70245a" stroke-width="0.9"/><circle cx="1356.6" cy="1660.03" r="6.7" fill="#D056AE" stroke="#70245a" stroke-width="0.9"/><circle cx="1356.6" cy="1672.94" r="6.7" fill="#D056AE" stroke="#70245a" stroke-width="0.9"/><circle cx="1322.6" cy="1685.84" r="6.7" fill="#D056AE" stroke="#70245a" stroke-width="0.9"/><circle cx="1356.6" cy="1698.75" r="6.7" fill="#D056AE" stroke="#70245a" stroke-width="0.9"/><circle cx="1343.4" cy="1711.65" r="6.7" fill="#D056AE" stroke="#70245a" stroke-width="0.9"/><circle cx="1372.3" cy="1724.56" r="6.7" fill="#D056AE" stroke="#70245a" stroke-width="0.9"/><circle cx="1364.5" cy="1737.46" r="6.7" fill="#D056AE" stroke="#70245a" stroke-width="0.9"/><circle cx="1340.8" cy="1750.37" r="6.7" fill="#D056AE" stroke="#70245a" stroke-width="0.9"/><circle cx="1343.4" cy="1763.27" r="6.7" fill="#D056AE" stroke="#70245a" stroke-width="0.9"/><circle cx="1221.3" cy="1776.18" r="6.7" fill="#D056AE" stroke="#70245a" stroke-width="0.9"/><circle cx="1221.3" cy="1789.08" r="6.7" fill="#D056AE" stroke="#70245a" stroke-width="0.9"/><circle cx="1333.0" cy="1801.99" r="6.7" fill="#D056AE" stroke="#70245a" stroke-width="0.9"/><circle cx="1361.6" cy="1814.89" r="6.7" fill="#D056AE" stroke="#70245a" stroke-width="0.9"/><circle cx="1415.5" cy="1827.80" r="6.7" fill="#D056AE" stroke="#70245a" stroke-width="0.9"/><circle cx="1349.0" cy="1840.70" r="6.7" fill="#D056AE" stroke="#70245a" stroke-width="0.9"/><circle cx="1361.6" cy="1853.61" r="6.7" fill="#D056AE" stroke="#70245a" stroke-width="0.9"/><circle cx="1291.9" cy="1866.51" r="6.7" fill="#D056AE" stroke="#70245a" stroke-width="0.9"/><circle cx="1415.5" cy="1879.42" r="6.7" fill="#D056AE" stroke="#70245a" stroke-width="0.9"/><circle cx="1305.7" cy="1892.32" r="6.7" fill="#D056AE" stroke="#70245a" stroke-width="0.9"/><circle cx="1333.0" cy="1905.23" r="6.7" fill="#D056AE" stroke="#70245a" stroke-width="0.9"/><circle cx="1343.4" cy="1918.13" r="6.7" fill="#D056AE" stroke="#70245a" stroke-width="0.9"/><circle cx="1356.7" cy="1931.04" r="6.7" fill="#D056AE" stroke="#70245a" stroke-width="0.9"/><circle cx="1361.6" cy="1943.94" r="6.7" fill="#D056AE" stroke="#70245a" stroke-width="0.9"/><circle cx="1325.3" cy="1956.85" r="6.7" fill="#D056AE" stroke="#70245a" stroke-width="0.9"/><circle cx="1333.0" cy="1969.75" r="6.7" fill="#D056AE" stroke="#70245a" stroke-width="0.9"/><circle cx="1349.0" cy="1982.66" r="6.7" fill="#D056AE" stroke="#70245a" stroke-width="0.9"/><circle cx="1361.6" cy="1995.56" r="6.7" fill="#D056AE" stroke="#70245a" stroke-width="0.9"/><circle cx="1257.7" cy="2008.47" r="6.7" fill="#D056AE" stroke="#70245a" stroke-width="0.9"/><circle cx="1296.7" cy="2021.37" r="6.7" fill="#D056AE" stroke="#70245a" stroke-width="0.9"/><circle cx="1221.3" cy="2034.28" r="6.7" fill="#D056AE" stroke="#70245a" stroke-width="0.9"/><circle cx="1221.3" cy="2047.18" r="6.7" fill="#D056AE" stroke="#70245a" stroke-width="0.9"/><circle cx="1333.0" cy="2060.09" r="6.7" fill="#D056AE" stroke="#70245a" stroke-width="0.9"/><circle cx="1333.0" cy="2072.99" r="6.7" fill="#D056AE" stroke="#70245a" stroke-width="0.9"/><circle cx="1333.0" cy="2085.90" r="6.7" fill="#D056AE" stroke="#70245a" stroke-width="0.9"/><circle cx="1327.8" cy="2098.80" r="6.7" fill="#D056AE" stroke="#70245a" stroke-width="0.9"/><circle cx="1254.9" cy="2111.71" r="6.7" fill="#79E055" stroke="#3a7a25" stroke-width="0.9"/><circle cx="1348.1" cy="2124.61" r="6.7" fill="#B6D45A" stroke="#5f7a25" stroke-width="0.9"/><circle cx="1216.2" cy="2137.52" r="6.7" fill="#79E0D2" stroke="#2f7a70" stroke-width="0.9"/><circle cx="1315.0" cy="2150.42" r="6.7" fill="#D056AE" stroke="#70245a" stroke-width="0.9"/><circle cx="1153.7" cy="2163.33" r="6.7" fill="#79E0D2" stroke="#2f7a70" stroke-width="0.9"/><circle cx="1263.2" cy="2176.23" r="6.7" fill="#D056AE" stroke="#70245a" stroke-width="0.9"/><circle cx="1221.4" cy="2189.14" r="6.7" fill="#D056AE" stroke="#70245a" stroke-width="0.9"/><circle cx="1104.1" cy="2202.04" r="6.7" fill="#6FE08D" stroke="#2f7a45" stroke-width="0.9"/><circle cx="1104.1" cy="2214.95" r="6.7" fill="#6FE08D" stroke="#2f7a45" stroke-width="0.9"/><circle cx="1070.7" cy="2227.86" r="6.7" fill="#D056AE" stroke="#70245a" stroke-width="0.9"/><circle cx="1189.9" cy="2240.76" r="6.7" fill="#D056AE" stroke="#70245a" stroke-width="0.9"/><text x="1100.6" y="2204.5" font-family="Liberation Sans" font-size="8.5" fill="#0c3a10" fill-opacity="0.75" text-anchor="middle">0.33</text><rect x="1027.3" y="31" width="7.2" height="1232.5" fill="#F21D12"/><path d="M968.0 649.5L968.0 637.1M968.0 649.5L979.8 645.7M968.0 649.5L975.3 659.5M968.0 649.5L960.7 659.5M968.0 649.5L956.2 645.7" stroke="#FF1E0E" stroke-width="4.2" fill="none"/><path d="M1053.0 1046.0L1053.0 1033.6M1053.0 1046.0L1064.8 1042.2M1053.0 1046.0L1060.3 1056.0M1053.0 1046.0L1045.7 1056.0M1053.0 1046.0L1041.2 1042.2" stroke="#FF1E0E" stroke-width="4.2" fill="none"/><path d="M961.6 1167.0L961.6 1154.6M961.6 1167.0L973.4 1163.2M961.6 1167.0L968.9 1177.0M961.6 1167.0L954.3 1177.0M961.6 1167.0L949.8 1163.2" stroke="#FF1E0E" stroke-width="4.2" fill="none"/><path d="M83.5 2271.6H1439" stroke="#000" stroke-width="2.8"/><path d="M84.0 2271V2276.6M131.6 2271V2274.3M179.2 2271V2274.3M226.8 2271V2274.3M274.4 2271V2274.3M322.0 2271V2276.6M369.6 2271V2274.3M417.2 2271V2274.3M464.8 2271V2274.3M512.4 2271V2274.3M560.0 2271V2276.6M607.6 2271V2274.3M655.2 2271V2274.3M702.8 2271V2274.3M750.4 2271V2274.3M798.0 2271V2276.6M845.6 2271V2274.3M893.2 2271V2274.3M940.8 2271V2274.3M988.4 2271V2274.3M1036.0 2271V2276.6M1083.6 2271V2274.3M1131.2 2271V2274.3M1178.8 2271V2274.3M1226.4 2271V2274.3M1274.0 2271V2276.6M1321.6 2271V2274.3M1369.2 2271V2274.3M1416.8 2271V2274.3" stroke="#000" stroke-width="2.4"/><text transform="translate(102.0,2477.49) rotate(-90)" font-family="Liberation Sans" font-size="31" fill="#000" textLength="149.31" lengthAdjust="spacingAndGlyphs">July - 2023</text><text transform="translate(173.0,2477.90) rotate(-90)" font-family="Liberation Sans" font-size="31" fill="#000" textLength="149.75" lengthAdjust="spacingAndGlyphs">Aug - 2023</text><text transform="translate(257.0,2490.82) rotate(-90)" font-family="Liberation Sans" font-size="31" fill="#000" textLength="162.72" lengthAdjust="spacingAndGlyphs">Sept - 2023</text><text transform="translate(335.0,2476.54) rotate(-90)" font-family="Liberation Sans" font-size="31" fill="#000" textLength="148.41" lengthAdjust="spacingAndGlyphs">Oct - 2023</text><text transform="translate(413.5,2481.52) rotate(-90)" font-family="Liberation Sans" font-size="31" fill="#000" textLength="152.87" lengthAdjust="spacingAndGlyphs">Nov - 2023</text><text transform="translate(494.4,2481.52) rotate(-90)" font-family="Liberation Sans" font-size="31" fill="#000" textLength="152.87" lengthAdjust="spacingAndGlyphs">Dec - 2023</text><text transform="translate(568.0,2473.39) rotate(-90)" font-family="Liberation Sans" font-size="31" fill="#000" textLength="144.27" lengthAdjust="spacingAndGlyphs">Jan - 2024</text><text transform="translate(649.5,2478.49) rotate(-90)" font-family="Liberation Sans" font-size="31" fill="#000" textLength="149.42" lengthAdjust="spacingAndGlyphs">Feb - 2024</text><text transform="translate(729.4,2480.43) rotate(-90)" font-family="Liberation Sans" font-size="31" fill="#000" textLength="151.74" lengthAdjust="spacingAndGlyphs">Mar - 2024</text><text transform="translate(803.5,2490.10) rotate(-90)" font-family="Liberation Sans" font-size="31" fill="#000" textLength="161.45" lengthAdjust="spacingAndGlyphs">April - 2024</text><text transform="translate(879.8,2485.43) rotate(-90)" font-family="Liberation Sans" font-size="31" fill="#000" textLength="156.81" lengthAdjust="spacingAndGlyphs">May - 2024</text><text transform="translate(968.6,2491.80) rotate(-90)" font-family="Liberation Sans" font-size="31" fill="#000" textLength="163.13" lengthAdjust="spacingAndGlyphs">June - 2024</text><text transform="translate(1040.9,2478.59) rotate(-90)" font-family="Liberation Sans" font-size="31" fill="#000" textLength="149.92" lengthAdjust="spacingAndGlyphs">July - 2024</text><text transform="translate(1122.5,2478.20) rotate(-90)" font-family="Liberation Sans" font-size="31" fill="#000" textLength="149.55" lengthAdjust="spacingAndGlyphs">Aug - 2024</text><text transform="translate(1203.0,2491.42) rotate(-90)" font-family="Liberation Sans" font-size="31" fill="#000" textLength="162.82" lengthAdjust="spacingAndGlyphs">Sept - 2024</text><text transform="translate(1286.0,2477.04) rotate(-90)" font-family="Liberation Sans" font-size="31" fill="#000" textLength="148.40" lengthAdjust="spacingAndGlyphs">Oct - 2024</text><text transform="translate(1365.6,2481.93) rotate(-90)" font-family="Liberation Sans" font-size="31" fill="#000" textLength="153.28" lengthAdjust="spacingAndGlyphs">Nov - 2024</text><text transform="translate(1438.7,2481.93) rotate(-90)" font-family="Liberation Sans" font-size="31" fill="#000" textLength="153.28" lengthAdjust="spacingAndGlyphs">Dec - 2024</text></svg>
</body></html>
